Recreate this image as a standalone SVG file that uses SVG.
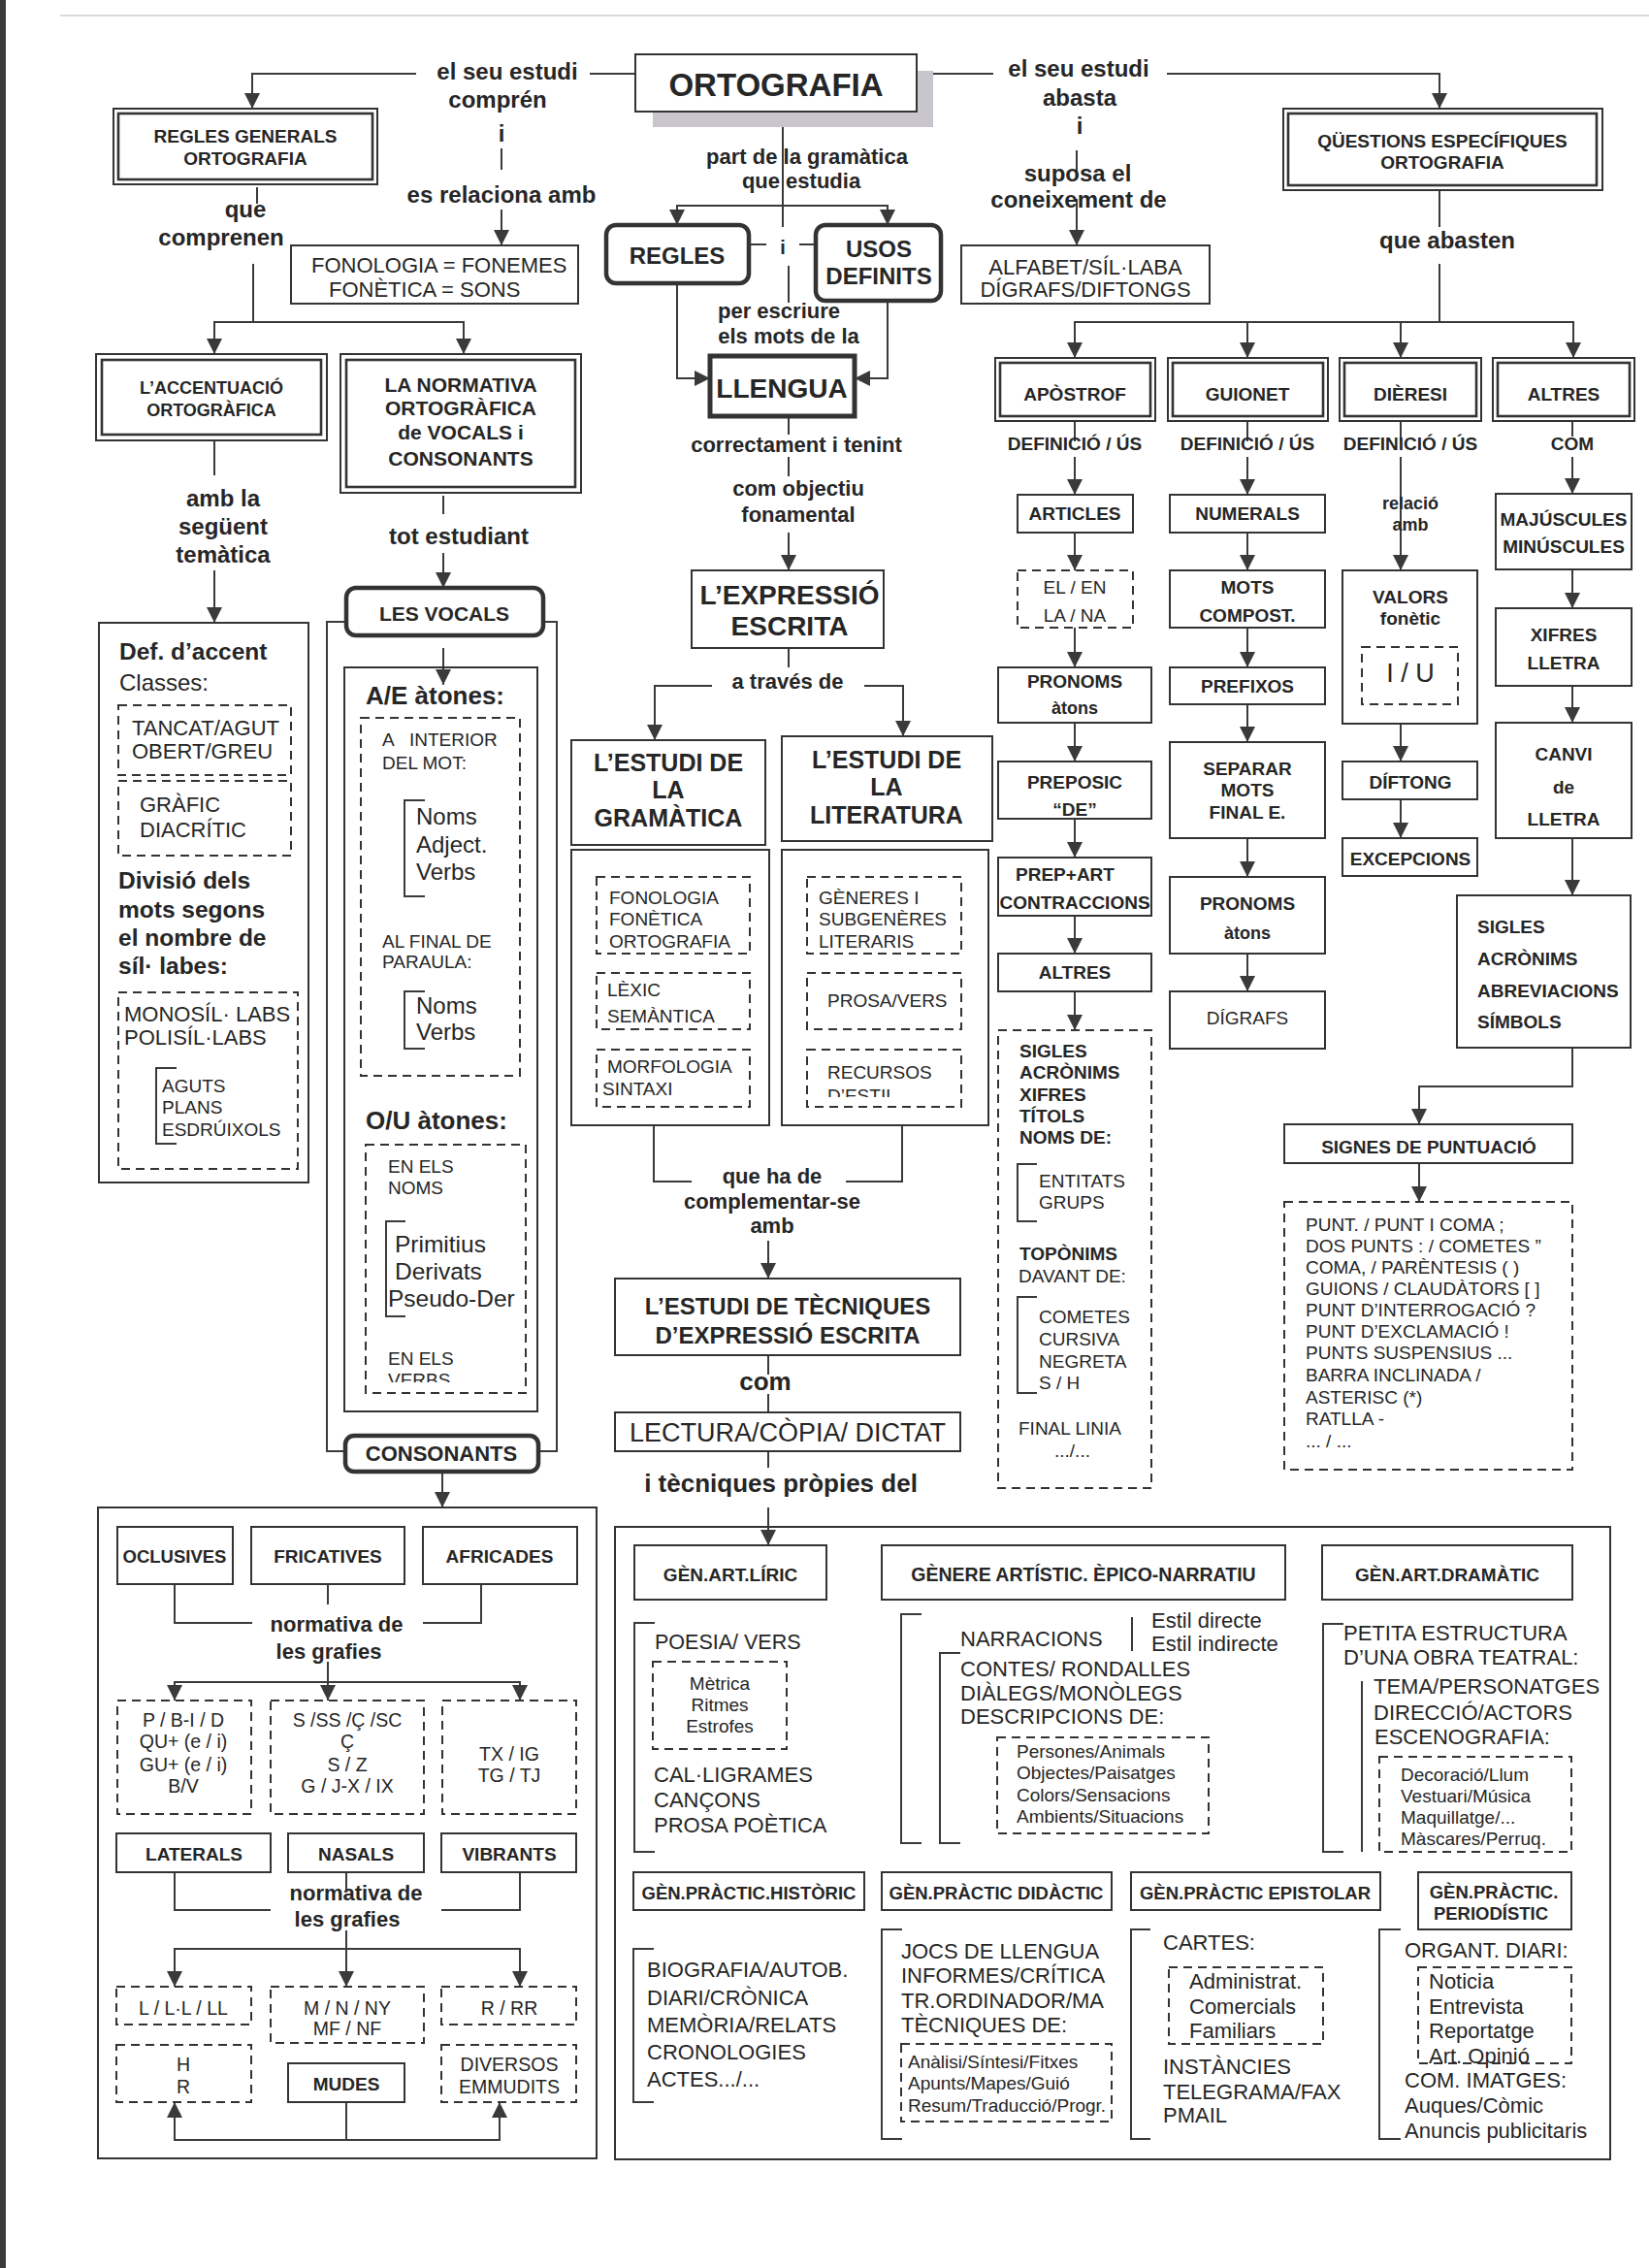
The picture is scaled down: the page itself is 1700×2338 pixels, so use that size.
<svg xmlns="http://www.w3.org/2000/svg" width="1700" height="2338" viewBox="0 0 1700 2338">
<defs>
<marker id="ah" markerUnits="userSpaceOnUse" markerWidth="16" markerHeight="16" refX="16" refY="8" orient="auto" viewBox="0 0 16 16"><path d="M0,0 L16,8 L0,16 z" fill="#3a3a3a"/></marker>
<clipPath id="clipVerbs"><rect x="380" y="1395" width="160" height="30"/></clipPath>
<clipPath id="clipEstil"><rect x="840" y="1115" width="150" height="16"/></clipPath>
</defs>
<style>
text{font-family:"Liberation Sans",Arial,Helvetica,sans-serif;fill:#262626}
.bo{font-weight:bold}
.m{text-anchor:middle}
.box{fill:none;stroke:#333;stroke-width:2}
.in{fill:none;stroke:#333;stroke-width:2.6}
.dash{fill:none;stroke:#333;stroke-width:2;stroke-dasharray:9 6}
.rnd{fill:#fff;stroke:#333;stroke-width:4.5}
.ln{fill:none;stroke:#3a3a3a;stroke-width:2}
.ar{fill:none;stroke:#3a3a3a;stroke-width:2;marker-end:url(#ah)}
</style>
<rect width="1700" height="2338" fill="#fff"/>
<rect x="0" y="0" width="6" height="2338" fill="#3a3a3a"/>
<line x1="62" y1="16" x2="1700" y2="16" stroke="#cfcfcf" stroke-width="1.5"/>

<g id="connectors">
<path class="ar" d="M429,76 H260 V112"/>
<path class="ln" d="M608,76 H655"/>
<path class="ln" d="M945,76 H1024"/>
<path class="ar" d="M1203,76 H1484 V112"/>
<path class="ln" d="M517,153 V175"/>
<path class="ar" d="M517,216 V253"/>
<path class="ln" d="M1110,155 V178"/>
<path class="ar" d="M1110,205 V253"/>
<path class="ln" d="M265,193 V210"/>
<path class="ar" d="M261,272 V332 H221 V365"/>
<path class="ar" d="M261,332 H478 V365"/>
<path class="ln" d="M221,454 V490"/>
<path class="ar" d="M221,588 V642"/>
<path class="ln" d="M457,511 V530"/>
<path class="ar" d="M457,570 V606"/>
<path class="ar" d="M457,668 V706"/>
<path class="ln" d="M357,641 H337 V1496 H356"/>
<path class="ln" d="M560,641 H574 V1496 H555"/>
<path class="ar" d="M456,1517 V1554"/>
<path class="ln" d="M180,1633 V1673 H260"/>
<path class="ln" d="M338,1633 V1654"/>
<path class="ln" d="M496,1633 V1673 H436"/>
<path class="ar" d="M338,1713 V1753"/>
<path class="ar" d="M338,1734 H180 V1753"/>
<path class="ar" d="M338,1734 H536 V1753"/>
<path class="ln" d="M180,1930 V1969 H279"/>
<path class="ln" d="M357,1930 V1948"/>
<path class="ln" d="M536,1930 V1969 H455"/>
<path class="ar" d="M357,1990 V2048"/>
<path class="ar" d="M357,2009 H180 V2048"/>
<path class="ar" d="M357,2009 H536 V2048"/>
<path class="ar" d="M357,2167 V2206 H180 V2167"/>
<path class="ar" d="M357,2206 H515 V2167"/>
<path class="ln" d="M807,115 V234"/>
<path class="ar" d="M807,212 H698 V232"/>
<path class="ar" d="M807,212 H915 V232"/>
<path class="ln" d="M772,252 H790"/>
<path class="ln" d="M824,252 H841"/>
<path class="ln" d="M813,274 V312"/>
<path class="ar" d="M698,292 V390 H732"/>
<path class="ar" d="M915,310 V390 H881"/>
<path class="ln" d="M813,429 V448"/>
<path class="ln" d="M813,471 V491"/>
<path class="ar" d="M813,549 V588"/>
<path class="ln" d="M813,668 V688"/>
<path class="ar" d="M734,707 H675 V763"/>
<path class="ar" d="M891,707 H931 V759"/>
<path class="ln" d="M674,1160 V1218 H713"/>
<path class="ln" d="M930,1160 V1218 H872"/>
<path class="ar" d="M792,1279 V1318"/>
<path class="ln" d="M792,1397 V1417"/>
<path class="ln" d="M792,1437 V1456"/>
<path class="ln" d="M792,1496 V1513"/>
<path class="ar" d="M792,1554 V1593"/>
<path class="ln" d="M1484,196 V234"/>
<path class="ln" d="M1484,272 V332"/>
<path class="ar" d="M1484,332 H1108 V369"/>
<path class="ar" d="M1286,332 V369"/>
<path class="ar" d="M1444,332 V369"/>
<path class="ar" d="M1484,332 H1622 V369"/>
<path class="ln" d="M1108,434 V455"/>
<path class="ar" d="M1108,471 V510"/>
<path class="ln" d="M1286,434 V455"/>
<path class="ar" d="M1286,471 V510"/>
<path class="ln" d="M1444,434 V455"/>
<path class="ar" d="M1444,471 V588"/>
<path class="ln" d="M1621,434 V450"/>
<path class="ar" d="M1621,471 V509"/>
<path class="ar" d="M1108,549 V588"/>
<path class="ar" d="M1108,647 V688"/>
<path class="ar" d="M1108,745 V785"/>
<path class="ar" d="M1108,844 V884"/>
<path class="ar" d="M1108,944 V983"/>
<path class="ar" d="M1108,1022 V1062"/>
<path class="ar" d="M1286,549 V588"/>
<path class="ar" d="M1286,647 V688"/>
<path class="ar" d="M1286,726 V765"/>
<path class="ar" d="M1286,864 V904"/>
<path class="ar" d="M1286,983 V1022"/>
<path class="ar" d="M1444,746 V785"/>
<path class="ar" d="M1444,824 V864"/>
<path class="ar" d="M1621,587 V627"/>
<path class="ar" d="M1621,707 V745"/>
<path class="ar" d="M1621,864 V923"/>
<path class="ar" d="M1621,1080 V1120 H1463 V1159"/>
<path class="ar" d="M1463,1199 V1239"/>
</g>

<g id="labels">
<text class="bo m" x="523" y="82" font-size="24">el seu estudi</text>
<text class="bo m" x="513" y="111" font-size="24">comprén</text>
<text class="bo m" x="517" y="146" font-size="24">i</text>
<text class="bo m" x="517" y="209" font-size="24">es relaciona amb</text>
<text class="bo m" x="1112" y="79" font-size="24">el seu estudi</text>
<text class="bo m" x="1113" y="109" font-size="24">abasta</text>
<text class="bo m" x="1113" y="138" font-size="24">i</text>
<text class="bo m" x="1111" y="187" font-size="24">suposa el</text>
<text class="bo m" x="1112" y="214" font-size="24">coneixement de</text>
<text class="bo m" x="253" y="224" font-size="24">que</text>
<text class="bo m" x="228" y="253" font-size="24">comprenen</text>
<text class="bo m" x="230" y="522" font-size="24">amb la</text>
<text class="bo m" x="230" y="551" font-size="24">següent</text>
<text class="bo m" x="230" y="580" font-size="24">temàtica</text>
<text class="bo m" x="473" y="561" font-size="24">tot estudiant</text>
<text class="bo m" x="832" y="169" font-size="22">part de la gramàtica</text>
<text class="bo m" x="826" y="194" font-size="22">que estudia</text>
<text class="bo m" x="807" y="262" font-size="20">i</text>
<text class="bo m" x="803" y="328" font-size="22">per escriure</text>
<text class="bo m" x="813" y="354" font-size="22">els mots de la</text>
<text class="bo m" x="821" y="466" font-size="22">correctament i tenint</text>
<text class="bo m" x="823" y="511" font-size="22">com objectiu</text>
<text class="bo m" x="823" y="538" font-size="22">fonamental</text>
<text class="bo m" x="812" y="710" font-size="22">a través de</text>
<text class="bo m" x="796" y="1220" font-size="22">que ha de</text>
<text class="bo m" x="796" y="1246" font-size="22">complementar-se</text>
<text class="bo m" x="796" y="1271" font-size="22">amb</text>
<text class="bo m" x="789" y="1433" font-size="26">com</text>
<text class="bo m" x="805" y="1538" font-size="26">i tècniques pròpies del</text>
<text class="bo m" x="1492" y="256" font-size="24">que abasten</text>
<text class="bo m" x="1108" y="464" font-size="19">DEFINICIÓ / ÚS</text>
<text class="bo m" x="1286" y="464" font-size="19">DEFINICIÓ / ÚS</text>
<text class="bo m" x="1454" y="464" font-size="19">DEFINICIÓ / ÚS</text>
<text class="bo m" x="1621" y="464" font-size="19">COM</text>
<text class="bo m" x="1454" y="525" font-size="18">relació</text>
<text class="bo m" x="1454" y="547" font-size="18">amb</text>
<text class="bo m" x="347" y="1682" font-size="22">normativa de</text>
<text class="bo m" x="339" y="1710" font-size="22">les grafies</text>
<text class="bo m" x="367" y="1959" font-size="22">normativa de</text>
<text class="bo m" x="358" y="1986" font-size="22">les grafies</text>
</g>

<g id="n-ortografia">
<rect x="673" y="73" width="289" height="58" fill="#c9c5cd"/>
<rect x="655" y="56" width="290" height="59" fill="#fff" stroke="#333" stroke-width="2"/>
<text class="bo m" x="800" y="99" font-size="33">ORTOGRAFIA</text>
</g>

<g id="n-regles-generals">
<rect class="box" x="117" y="112" width="272" height="78"/>
<rect class="in" x="122" y="117" width="262" height="68"/>
<text class="bo m" x="253" y="147" font-size="19">REGLES GENERALS</text>
<text class="bo m" x="253" y="170" font-size="19">ORTOGRAFIA</text>
</g>

<g id="n-fonologia">
<rect class="box" x="300" y="253" width="296" height="60"/>
<text x="321" y="281" font-size="22">FONOLOGIA = FONEMES</text>
<text x="339" y="306" font-size="22">FONÈTICA = SONS</text>
</g>

<g id="n-accentuacio">
<rect class="box" x="99" y="365" width="238" height="89"/>
<rect class="in" x="105" y="371" width="226" height="77"/>
<text class="bo m" x="218" y="406" font-size="18">L’ACCENTUACIÓ</text>
<text class="bo m" x="218" y="429" font-size="18">ORTOGRÀFICA</text>
</g>

<g id="n-normativa">
<rect class="box" x="351" y="365" width="248" height="143"/>
<rect class="in" x="357" y="371" width="236" height="131"/>
<text class="bo m" x="475" y="404" font-size="21">LA NORMATIVA</text>
<text class="bo m" x="475" y="428" font-size="21">ORTOGRÀFICA</text>
<text class="bo m" x="475" y="453" font-size="21">de VOCALS i</text>
<text class="bo m" x="475" y="480" font-size="21">CONSONANTS</text>
</g>

<g id="n-accent-detail">
<rect class="box" x="102" y="642" width="216" height="577"/>
<text class="bo" x="123" y="680" font-size="24.5">Def. d’accent</text>
<text x="123" y="712" font-size="24">Classes:</text>
<rect class="dash" x="122" y="727" width="178" height="72"/>
<text x="136" y="758" font-size="22">TANCAT/AGUT</text>
<text x="136" y="782" font-size="22">OBERT/GREU</text>
<rect class="dash" x="122" y="805" width="178" height="77"/>
<text x="144" y="837" font-size="22">GRÀFIC</text>
<text x="144" y="863" font-size="22">DIACRÍTIC</text>
<text class="bo" x="122" y="916" font-size="24.5">Divisió dels</text>
<text class="bo" x="122" y="946" font-size="24.5">mots segons</text>
<text class="bo" x="122" y="975" font-size="24.5">el nombre de</text>
<text class="bo" x="122" y="1004" font-size="24.5">síl· labes:</text>
<rect class="dash" x="122" y="1023" width="185" height="182"/>
<text x="128" y="1053" font-size="22">MONOSÍL· LABS</text>
<text x="128" y="1077" font-size="22">POLISÍL·LABS</text>
<path class="ln" d="M182,1101 H161 V1179 H182"/>
<text x="167" y="1126" font-size="19">AGUTS</text>
<text x="167" y="1148" font-size="19">PLANS</text>
<text x="167" y="1171" font-size="19">ESDRÚIXOLS</text>
</g>

<g id="n-vocals">
<rect class="rnd" x="357" y="606" width="203" height="49" rx="10"/>
<text class="bo m" x="458" y="640" font-size="21">LES VOCALS</text>
<rect class="box" x="355" y="688" width="199" height="767"/>
<text class="bo" x="377" y="726" font-size="26">A/E àtones:</text>
<rect class="dash" x="372" y="740" width="164" height="369"/>
<text x="394" y="769" font-size="19">A</text>
<text x="422" y="769" font-size="19">INTERIOR</text>
<text x="394" y="793" font-size="19">DEL MOT:</text>
<path class="ln" d="M438,825 H417 V924 H438"/>
<text x="429" y="850" font-size="24">Noms</text>
<text x="429" y="879" font-size="24">Adject.</text>
<text x="429" y="907" font-size="24">Verbs</text>
<text x="394" y="977" font-size="19">AL FINAL DE</text>
<text x="394" y="998" font-size="19">PARAULA:</text>
<path class="ln" d="M438,1022 H417 V1081 H438"/>
<text x="429" y="1045" font-size="24">Noms</text>
<text x="429" y="1072" font-size="24">Verbs</text>
<text class="bo" x="377" y="1164" font-size="26">O/U àtones:</text>
<rect class="dash" x="377" y="1180" width="165" height="256"/>
<text x="400" y="1209" font-size="19">EN ELS</text>
<text x="400" y="1231" font-size="19">NOMS</text>
<path class="ln" d="M418,1259 H398 V1357 H418"/>
<text x="407" y="1291" font-size="24.5">Primitius</text>
<text x="407" y="1319" font-size="24.5">Derivats</text>
<text x="400" y="1347" font-size="24.5">Pseudo-Der</text>
<text x="400" y="1407" font-size="19">EN ELS</text>
<text x="400" y="1429" font-size="19" clip-path="url(#clipVerbs)">VERBS</text>
</g>

<g id="n-consonants">
<rect class="rnd" x="356" y="1480" width="199" height="37" rx="9"/>
<text class="bo m" x="455" y="1506" font-size="22">CONSONANTS</text>
</g>

<g id="n-consonants-detail">
<rect class="box" x="101" y="1554" width="514" height="671"/>
<rect class="box" x="121" y="1574" width="119" height="59"/>
<text class="bo m" x="180" y="1611" font-size="18.5">OCLUSIVES</text>
<rect class="box" x="259" y="1574" width="158" height="59"/>
<text class="bo m" x="338" y="1611" font-size="19">FRICATIVES</text>
<rect class="box" x="436" y="1574" width="159" height="59"/>
<text class="bo m" x="515" y="1611" font-size="19">AFRICADES</text>
<rect class="dash" x="121" y="1753" width="138" height="117"/>
<text class="m" x="189" y="1780" font-size="19.5">P / B-I /  D</text>
<text class="m" x="189" y="1802" font-size="19.5">QU+ (e / i)</text>
<text class="m" x="189" y="1826" font-size="19.5">GU+ (e / i)</text>
<text class="m" x="189" y="1848" font-size="19.5">B/V</text>
<rect class="dash" x="279" y="1753" width="158" height="117"/>
<text class="m" x="358" y="1780" font-size="19.5">S /SS /Ç /SC</text>
<text class="m" x="358" y="1802" font-size="19.5">Ç</text>
<text class="m" x="358" y="1826" font-size="19.5">S / Z</text>
<text class="m" x="358" y="1848" font-size="19.5">G / J-X / IX</text>
<rect class="dash" x="456" y="1753" width="138" height="117"/>
<text class="m" x="525" y="1815" font-size="19.5">TX / IG</text>
<text class="m" x="525" y="1837" font-size="19.5">TG / TJ</text>
<rect class="box" x="120" y="1890" width="159" height="40"/>
<text class="bo m" x="200" y="1918" font-size="19">LATERALS</text>
<rect class="box" x="297" y="1890" width="140" height="40"/>
<text class="bo m" x="367" y="1918" font-size="19">NASALS</text>
<rect class="box" x="455" y="1890" width="139" height="40"/>
<text class="bo m" x="525" y="1918" font-size="19">VIBRANTS</text>
<rect class="dash" x="120" y="2048" width="139" height="39"/>
<text class="m" x="189" y="2077" font-size="19.5">L / L·L / LL</text>
<rect class="dash" x="279" y="2048" width="158" height="58"/>
<text class="m" x="358" y="2077" font-size="19.5">M / N / NY</text>
<text class="m" x="358" y="2098" font-size="19.5">MF / NF</text>
<rect class="dash" x="455" y="2048" width="139" height="39"/>
<text class="m" x="525" y="2077" font-size="19.5">R / RR</text>
<rect class="dash" x="120" y="2108" width="139" height="59"/>
<text class="m" x="189" y="2135" font-size="19.5">H</text>
<text class="m" x="189" y="2158" font-size="19.5">R</text>
<rect class="box" x="297" y="2127" width="120" height="40"/>
<text class="bo m" x="357" y="2155" font-size="19">MUDES</text>
<rect class="dash" x="455" y="2108" width="139" height="59"/>
<text class="m" x="525" y="2135" font-size="19.5">DIVERSOS</text>
<text class="m" x="525" y="2158" font-size="19.5">EMMUDITS</text>
</g>

<g id="n-regles">
<rect class="rnd" x="625" y="232" width="147" height="60" rx="10"/>
<text class="bo m" x="698" y="272" font-size="24">REGLES</text>
</g>
<g id="n-usos">
<rect class="rnd" x="841" y="232" width="129" height="78" rx="10"/>
<text class="bo m" x="906" y="265" font-size="24">USOS</text>
<text class="bo m" x="906" y="293" font-size="24">DEFINITS</text>
</g>
<g id="n-llengua">
<rect x="732" y="367" width="149" height="62" fill="#fff" stroke="#333" stroke-width="5"/>
<text class="bo m" x="806" y="410" font-size="28">LLENGUA</text>
</g>
<g id="n-expressio">
<rect class="box" x="713" y="588" width="198" height="80"/>
<text class="bo m" x="814" y="623" font-size="28">L’EXPRESSIÓ</text>
<text class="bo m" x="814" y="655" font-size="28">ESCRITA</text>
</g>
<g id="n-gramatica">
<rect class="box" x="589" y="763" width="200" height="108"/>
<text class="bo m" x="689" y="795" font-size="25">L’ESTUDI DE</text>
<text class="bo m" x="689" y="823" font-size="25">LA</text>
<text class="bo m" x="689" y="852" font-size="25">GRAMÀTICA</text>
<rect class="box" x="589" y="876" width="204" height="284"/>
<rect class="dash" x="615" y="904" width="158" height="79"/>
<text x="628" y="932" font-size="19">FONOLOGIA</text>
<text x="628" y="954" font-size="19">FONÈTICA</text>
<text x="628" y="977" font-size="19">ORTOGRAFIA</text>
<rect class="dash" x="615" y="1003" width="158" height="58"/>
<text x="626" y="1027" font-size="19">LÈXIC</text>
<text x="626" y="1054" font-size="19">SEMÀNTICA</text>
<rect class="dash" x="615" y="1082" width="158" height="59"/>
<text x="626" y="1106" font-size="19">MORFOLOGIA</text>
<text x="621" y="1129" font-size="19">SINTAXI</text>
</g>
<g id="n-literatura">
<rect class="box" x="806" y="759" width="217" height="108"/>
<text class="bo m" x="914" y="792" font-size="25">L’ESTUDI DE</text>
<text class="bo m" x="914" y="820" font-size="25">LA</text>
<text class="bo m" x="914" y="849" font-size="25">LITERATURA</text>
<rect class="box" x="806" y="876" width="213" height="284"/>
<rect class="dash" x="832" y="904" width="159" height="79"/>
<text x="844" y="932" font-size="19">GÈNERES I</text>
<text x="844" y="954" font-size="19">SUBGENÈRES</text>
<text x="844" y="977" font-size="19">LITERARIS</text>
<rect class="dash" x="832" y="1003" width="159" height="58"/>
<text x="853" y="1038" font-size="19">PROSA/VERS</text>
<rect class="dash" x="832" y="1082" width="159" height="59"/>
<text x="853" y="1112" font-size="19">RECURSOS</text>
<text x="853" y="1136" font-size="19" clip-path="url(#clipEstil)">D’ESTIL</text>
</g>
<g id="n-tecniques">
<rect class="box" x="634" y="1318" width="356" height="79"/>
<text class="bo m" x="812" y="1355" font-size="24">L’ESTUDI DE TÈCNIQUES</text>
<text class="bo m" x="812" y="1385" font-size="24">D’EXPRESSIÓ ESCRITA</text>
</g>
<g id="n-lectura">
<rect class="box" x="634" y="1456" width="356" height="40"/>
<text class="m" x="812" y="1486" font-size="27">LECTURA/CÒPIA/ DICTAT</text>
</g>

<g id="n-alfabet">
<rect class="box" x="991" y="253" width="256" height="60"/>
<text class="m" x="1119" y="283" font-size="22">ALFABET/SÍL·LABA</text>
<text class="m" x="1119" y="306" font-size="22">DÍGRAFS/DIFTONGS</text>
</g>
<g id="n-questions">
<rect class="box" x="1323" y="112" width="329" height="84"/>
<rect class="in" x="1328" y="117" width="318" height="74"/>
<text class="bo m" x="1487" y="152" font-size="19">QÜESTIONS ESPECÍFIQUES</text>
<text class="bo m" x="1487" y="174" font-size="19">ORTOGRAFIA</text>
</g>

<g id="n-apostrof">
<rect class="box" x="1026" y="369" width="165" height="65"/>
<rect class="in" x="1031" y="374" width="155" height="55"/>
<text class="bo m" x="1108" y="413" font-size="19">APÒSTROF</text>
</g>
<g id="n-guionet">
<rect class="box" x="1204" y="369" width="165" height="65"/>
<rect class="in" x="1209" y="374" width="155" height="55"/>
<text class="bo m" x="1286" y="413" font-size="19">GUIONET</text>
</g>
<g id="n-dieresi">
<rect class="box" x="1381" y="369" width="146" height="65"/>
<rect class="in" x="1386" y="374" width="136" height="55"/>
<text class="bo m" x="1454" y="413" font-size="19">DIÈRESI</text>
</g>
<g id="n-altres-cat">
<rect class="box" x="1539" y="369" width="146" height="65"/>
<rect class="in" x="1544" y="374" width="136" height="55"/>
<text class="bo m" x="1612" y="413" font-size="19">ALTRES</text>
</g>

<g id="n-apostrof-chain">
<rect class="box" x="1049" y="510" width="119" height="39"/>
<text class="bo m" x="1108" y="536" font-size="19">ARTICLES</text>
<rect class="dash" x="1049" y="588" width="119" height="59"/>
<text class="m" x="1108" y="612" font-size="19">EL / EN</text>
<text class="m" x="1108" y="641" font-size="19">LA / NA</text>
<rect class="box" x="1029" y="688" width="158" height="57"/>
<text class="bo m" x="1108" y="709" font-size="19">PRONOMS</text>
<text class="bo m" x="1108" y="736" font-size="18">àtons</text>
<rect class="box" x="1029" y="785" width="158" height="59"/>
<text class="bo m" x="1108" y="813" font-size="19">PREPOSIC</text>
<text class="bo m" x="1108" y="841" font-size="19">“DE”</text>
<rect class="box" x="1029" y="884" width="158" height="60"/>
<text class="bo m" x="1098" y="908" font-size="19">PREP+ART</text>
<text class="bo m" x="1108" y="937" font-size="19">CONTRACCIONS</text>
<rect class="box" x="1029" y="983" width="158" height="39"/>
<text class="bo m" x="1108" y="1009" font-size="19">ALTRES</text>
<rect class="dash" x="1029" y="1062" width="158" height="472"/>
<text class="bo" x="1051" y="1090" font-size="19">SIGLES</text>
<text class="bo" x="1051" y="1112" font-size="19">ACRÒNIMS</text>
<text class="bo" x="1051" y="1135" font-size="19">XIFRES</text>
<text class="bo" x="1051" y="1157" font-size="19">TÍTOLS</text>
<text class="bo" x="1051" y="1179" font-size="19">NOMS DE:</text>
<path class="ln" d="M1069,1200 H1049 V1259 H1069"/>
<text x="1071" y="1224" font-size="19">ENTITATS</text>
<text x="1071" y="1246" font-size="19">GRUPS</text>
<text class="bo" x="1051" y="1299" font-size="19">TOPÒNIMS</text>
<text x="1050" y="1322" font-size="19">DAVANT DE:</text>
<path class="ln" d="M1069,1337 H1049 V1436 H1069"/>
<text x="1071" y="1364" font-size="19">COMETES</text>
<text x="1071" y="1387" font-size="19">CURSIVA</text>
<text x="1071" y="1410" font-size="19">NEGRETA</text>
<text x="1071" y="1432" font-size="19">S / H</text>
<text x="1050" y="1479" font-size="19">FINAL LINIA</text>
<text x="1087" y="1502" font-size="19">.../...</text>
</g>

<g id="n-guionet-chain">
<rect class="box" x="1206" y="510" width="160" height="39"/>
<text class="bo m" x="1286" y="536" font-size="19">NUMERALS</text>
<rect class="box" x="1206" y="588" width="160" height="59"/>
<text class="bo m" x="1286" y="612" font-size="19">MOTS</text>
<text class="bo m" x="1286" y="641" font-size="19">COMPOST.</text>
<rect class="box" x="1206" y="688" width="160" height="38"/>
<text class="bo m" x="1286" y="714" font-size="19">PREFIXOS</text>
<rect class="box" x="1206" y="765" width="160" height="99"/>
<text class="bo m" x="1286" y="799" font-size="19">SEPARAR</text>
<text class="bo m" x="1286" y="821" font-size="19">MOTS</text>
<text class="bo m" x="1286" y="844" font-size="19">FINAL E.</text>
<rect class="box" x="1206" y="904" width="160" height="79"/>
<text class="bo m" x="1286" y="938" font-size="19">PRONOMS</text>
<text class="bo m" x="1286" y="968" font-size="18">àtons</text>
<rect class="box" x="1206" y="1022" width="160" height="59"/>
<text class="m" x="1286" y="1056" font-size="19">DÍGRAFS</text>
</g>

<g id="n-dieresi-chain">
<rect class="box" x="1384" y="588" width="139" height="158"/>
<text class="bo m" x="1454" y="622" font-size="19">VALORS</text>
<text class="bo m" x="1454" y="644" font-size="19">fonètic</text>
<rect class="dash" x="1404" y="667" width="99" height="59"/>
<text class="m" x="1454" y="703" font-size="27">I / U</text>
<rect class="box" x="1384" y="785" width="139" height="39"/>
<text class="bo m" x="1454" y="813" font-size="19">DÍFTONG</text>
<rect class="box" x="1384" y="864" width="139" height="39"/>
<text class="bo m" x="1454" y="892" font-size="19">EXCEPCIONS</text>
</g>

<g id="n-altres-chain">
<rect class="box" x="1542" y="509" width="140" height="78"/>
<text class="bo m" x="1612" y="542" font-size="19">MAJÚSCULES</text>
<text class="bo m" x="1612" y="570" font-size="19">MINÚSCULES</text>
<rect class="box" x="1542" y="627" width="140" height="80"/>
<text class="bo m" x="1612" y="661" font-size="19">XIFRES</text>
<text class="bo m" x="1612" y="690" font-size="19">LLETRA</text>
<rect class="box" x="1542" y="745" width="140" height="119"/>
<text class="bo m" x="1612" y="784" font-size="19">CANVI</text>
<text class="bo m" x="1612" y="818" font-size="19">de</text>
<text class="bo m" x="1612" y="851" font-size="19">LLETRA</text>
<rect class="box" x="1502" y="923" width="179" height="157"/>
<text class="bo" x="1523" y="962" font-size="19">SIGLES</text>
<text class="bo" x="1523" y="995" font-size="19">ACRÒNIMS</text>
<text class="bo" x="1523" y="1028" font-size="19">ABREVIACIONS</text>
<text class="bo" x="1523" y="1060" font-size="19">SÍMBOLS</text>
</g>

<g id="n-puntuacio">
<rect class="box" x="1324" y="1159" width="297" height="40"/>
<text class="bo m" x="1473" y="1189" font-size="19">SIGNES DE PUNTUACIÓ</text>
<rect class="dash" x="1324" y="1239" width="297" height="276"/>
<text x="1346" y="1269" font-size="19">PUNT. / PUNT I COMA ;</text>
<text x="1346" y="1291" font-size="19">DOS PUNTS : / COMETES ”</text>
<text x="1346" y="1313" font-size="19">COMA, / PARÈNTESIS ( )</text>
<text x="1346" y="1335" font-size="19">GUIONS / CLAUDÀTORS [ ]</text>
<text x="1346" y="1357" font-size="19">PUNT D’INTERROGACIÓ ?</text>
<text x="1346" y="1379" font-size="19">PUNT D’EXCLAMACIÓ !</text>
<text x="1346" y="1401" font-size="19">PUNTS SUSPENSIUS ...</text>
<text x="1346" y="1424" font-size="19">BARRA INCLINADA  /</text>
<text x="1346" y="1447" font-size="19">ASTERISC (*)</text>
<text x="1346" y="1469" font-size="19">RATLLA   -</text>
<text x="1346" y="1492" font-size="19">... / ...</text>
</g>

<g id="n-generes">
<rect class="box" x="634" y="1574" width="1026" height="652"/>
<rect class="box" x="654" y="1593" width="198" height="56"/>
<text class="bo m" x="753" y="1630" font-size="19">GÈN.ART.LÍRIC</text>
<rect class="box" x="909" y="1593" width="416" height="56"/>
<text class="bo m" x="1117" y="1630" font-size="19.5">GÈNERE ARTÍSTIC. ÈPICO-NARRATIU</text>
<rect class="box" x="1363" y="1593" width="258" height="56"/>
<text class="bo m" x="1492" y="1630" font-size="19">GÈN.ART.DRAMÀTIC</text>

<path class="ln" d="M675,1673 H654 V1909 H675"/>
<text x="675" y="1700" font-size="21.5">POESIA/ VERS</text>
<rect class="dash" x="673" y="1713" width="138" height="90"/>
<text class="m" x="742" y="1742" font-size="19">Mètrica</text>
<text class="m" x="742" y="1764" font-size="19">Ritmes</text>
<text class="m" x="742" y="1786" font-size="19">Estrofes</text>
<text x="674" y="1837" font-size="22">CAL·LIGRAMES</text>
<text x="674" y="1863" font-size="22">CANÇONS</text>
<text x="674" y="1889" font-size="22">PROSA POÈTICA</text>

<path class="ln" d="M950,1664 H929 V1900 H950"/>
<path class="ln" d="M990,1704 H969 V1900 H990"/>
<text x="990" y="1697" font-size="22">NARRACIONS</text>
<path class="ln" d="M1167,1667 V1702"/>
<text x="1187" y="1678" font-size="22">Estil directe</text>
<text x="1187" y="1702" font-size="22">Estil indirecte</text>
<text x="990" y="1728" font-size="22">CONTES/ RONDALLES</text>
<text x="990" y="1753" font-size="22">DIÀLEGS/MONÒLEGS</text>
<text x="990" y="1777" font-size="22">DESCRIPCIONS DE:</text>
<rect class="dash" x="1028" y="1791" width="218" height="99"/>
<text x="1048" y="1812" font-size="19">Persones/Animals</text>
<text x="1048" y="1834" font-size="19">Objectes/Paisatges</text>
<text x="1048" y="1857" font-size="19">Colors/Sensacions</text>
<text x="1048" y="1879" font-size="19">Ambients/Situacions</text>

<path class="ln" d="M1385,1674 H1364 V1909 H1385"/>
<text x="1385" y="1691" font-size="22">PETITA ESTRUCTURA</text>
<text x="1385" y="1716" font-size="22">D’UNA OBRA TEATRAL:</text>
<path class="ln" d="M1404,1733 V1909"/>
<text x="1416" y="1746" font-size="22">TEMA/PERSONATGES</text>
<text x="1416" y="1773" font-size="22">DIRECCIÓ/ACTORS</text>
<text x="1417" y="1798" font-size="22">ESCENOGRAFIA:</text>
<rect class="dash" x="1422" y="1811" width="198" height="98"/>
<text x="1444" y="1836" font-size="19">Decoració/Llum</text>
<text x="1444" y="1858" font-size="19">Vestuari/Música</text>
<text x="1444" y="1880" font-size="19">Maquillatge/...</text>
<text x="1444" y="1902" font-size="19">Màscares/Perruq.</text>

<rect class="box" x="653" y="1930" width="238" height="39"/>
<text class="bo m" x="772" y="1958" font-size="18.5">GÈN.PRÀCTIC.HISTÒRIC</text>
<rect class="box" x="909" y="1930" width="237" height="39"/>
<text class="bo m" x="1027" y="1958" font-size="18.5">GÈN.PRÀCTIC DIDÀCTIC</text>
<rect class="box" x="1166" y="1930" width="257" height="39"/>
<text class="bo m" x="1294" y="1958" font-size="18.5">GÈN.PRÀCTIC EPISTOLAR</text>
<rect class="box" x="1462" y="1930" width="158" height="59"/>
<text class="bo m" x="1540" y="1957" font-size="18.5">GÈN.PRÀCTIC.</text>
<text class="bo m" x="1537" y="1979" font-size="18.5">PERIODÍSTIC</text>

<path class="ln" d="M674,2009 H653 V2167 H674"/>
<text x="667" y="2038" font-size="22">BIOGRAFIA/AUTOB.</text>
<text x="667" y="2067" font-size="22">DIARI/CRÒNICA</text>
<text x="667" y="2095" font-size="22">MEMÒRIA/RELATS</text>
<text x="667" y="2123" font-size="22">CRONOLOGIES</text>
<text x="667" y="2151" font-size="22">ACTES.../...</text>

<path class="ln" d="M930,1989 H909 V2205 H930"/>
<text x="929" y="2019" font-size="22">JOCS DE LLENGUA</text>
<text x="929" y="2044" font-size="22">INFORMES/CRÍTICA</text>
<text x="929" y="2070" font-size="22">TR.ORDINADOR/MA</text>
<text x="929" y="2095" font-size="22">TÈCNIQUES DE:</text>
<rect class="dash" x="929" y="2107" width="217" height="80"/>
<text x="936" y="2132" font-size="19">Anàlisi/Síntesi/Fitxes</text>
<text x="936" y="2154" font-size="19">Apunts/Mapes/Guió</text>
<text x="936" y="2177" font-size="19">Resum/Traducció/Progr.</text>

<path class="ln" d="M1186,1989 H1166 V2205 H1186"/>
<text x="1199" y="2010" font-size="22">CARTES:</text>
<rect class="dash" x="1205" y="2028" width="159" height="79"/>
<text x="1226" y="2050" font-size="22">Administrat.</text>
<text x="1226" y="2076" font-size="22">Comercials</text>
<text x="1226" y="2101" font-size="22">Familiars</text>
<text x="1199" y="2138" font-size="22">INSTÀNCIES</text>
<text x="1199" y="2164" font-size="22">TELEGRAMA/FAX</text>
<text x="1199" y="2188" font-size="22">PMAIL</text>

<path class="ln" d="M1444,1989 H1422 V2205 H1444"/>
<text x="1448" y="2018" font-size="22">ORGANT. DIARI:</text>
<rect class="dash" x="1462" y="2028" width="158" height="99"/>
<text x="1473" y="2050" font-size="22">Noticia</text>
<text x="1473" y="2076" font-size="22">Entrevista</text>
<text x="1473" y="2101" font-size="22">Reportatge</text>
<text x="1473" y="2127" font-size="22">Art. Opinió</text>
<text x="1448" y="2152" font-size="22">COM. IMATGES:</text>
<text x="1448" y="2178" font-size="22">Auques/Còmic</text>
<text x="1448" y="2204" font-size="22">Anuncis publicitaris</text>
</g>
</svg>
